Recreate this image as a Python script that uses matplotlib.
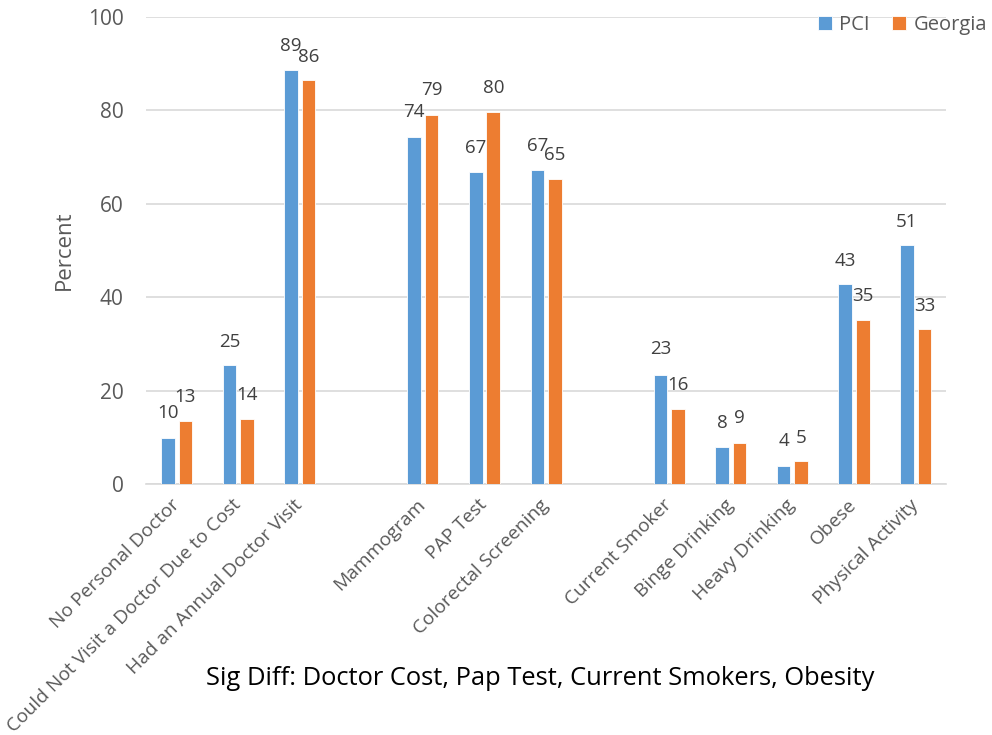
"""
PCI vs Georgia: access to care, screenings and risk behaviours.
Grouped bars with a blank slot between the three blocks, as in the source.
"""

import numpy as np
import matplotlib.pyplot as plt


# Категории (пустая строка = пустой слот между блоками)
CATEGORIES = [
    "No Personal Doctor",
    "Could Not Visit a Doctor Due to Cost",
    "Had an Annual Doctor Visit",
    "",
    "Mammogram",
    "PAP Test",
    "Colorectal Screening",
    "",
    "Current Smoker",
    "Binge Drinking",
    "Heavy Drinking",
    "Obese",
    "Physical Activity",
]
PCI = [9.8, 25.4, 88.6, None, 74.4, 66.9, 67.3, None, 23.4, 7.9, 3.9, 42.8, 51.1]
GEORGIA = [13.4, 13.9, 86.4, None, 79.1, 79.7, 65.4, None, 16.0, 8.8, 4.9, 35.1, 33.2]

# Подписи в исходнике сдвинуты вручную — держим их высоту отдельно
LABEL_Y_PCI = [15.2, 30.4, 93.7, None, 79.6, 72.0, 72.3, None, 28.9, 13.1, 9.1, 47.8, 56.2]
LABEL_Y_GEO = [18.6, 19.1, 91.5, None, 84.3, 84.8, 70.5, None, 21.2, 14.2, 9.8, 40.2, 38.2]

NOTE = "Sig Diff: Doctor Cost, Pap Test, Current Smokers, Obesity"

BLUE = "#5B9BD5"
ORANGE = "#ED7D31"
GRID = "#D9D9D9"
TEXT = "#595959"
FONT = ["Open Sans", "DejaVu Sans"]

BAR_W = 0.22
SHIFT = 0.142


def main():
    plt.rcParams["font.family"] = FONT

    fig = plt.figure(figsize=(9.92, 7.35), dpi=100)
    ax = fig.add_axes([0.147, 0.3415, 0.807, 0.6354])

    x = np.arange(len(CATEGORIES))
    idx = [i for i, v in enumerate(PCI) if v is not None]
    pci = np.array([PCI[i] for i in idx])
    geo = np.array([GEORGIA[i] for i in idx])
    xi = x[idx]

    ax.bar(xi - SHIFT, pci, BAR_W, color=BLUE, edgecolor="white",
           linewidth=0.6, label="PCI", zorder=3)
    ax.bar(xi + SHIFT, geo, BAR_W, color=ORANGE, edgecolor="white",
           linewidth=0.6, label="Georgia", zorder=3)

    for k, i in enumerate(idx):
        ax.text(x[i] - SHIFT, LABEL_Y_PCI[i], f"{pci[k]:.0f}", ha="center",
                va="center", fontsize=13.5, color="#404040", zorder=4)
        ax.text(x[i] + SHIFT, LABEL_Y_GEO[i], f"{geo[k]:.0f}", ha="center",
                va="center", fontsize=13.5, color="#404040", zorder=4)

    ax.set_xlim(-0.5, len(CATEGORIES) - 0.5)
    ax.set_ylim(0, 100)
    ax.set_yticks(range(0, 101, 20))
    ax.yaxis.grid(True, color=GRID, linewidth=1.2, zorder=0)
    ax.set_axisbelow(True)
    for s in ["top", "right", "left"]:
        ax.spines[s].set_visible(False)
    ax.spines["bottom"].set_color(GRID)
    ax.spines["bottom"].set_linewidth(1.2)
    ax.tick_params(axis="y", length=0, pad=16, labelsize=15, labelcolor=TEXT)
    ax.tick_params(axis="x", length=0, pad=13)

    ax.set_xticks(x)
    ax.set_xticklabels(CATEGORIES, rotation=45, ha="right", va="center",
                       rotation_mode="anchor", fontsize=13.8, color=TEXT)

    ax.set_ylabel("Percent", fontsize=16, color=TEXT, labelpad=9)

    fig.legend(loc="center right", bbox_to_anchor=(0.995, 0.966),
               bbox_transform=fig.transFigure, ncol=2, frameon=False,
               fontsize=14.5, labelcolor=TEXT, handlelength=0.7,
               handleheight=0.7, handletextpad=0.35, columnspacing=1.15,
               borderpad=0, borderaxespad=0)

    fig.text(0.545, 0.077, NOTE, ha="center", va="center", fontsize=18.4,
             color="black")

    fig.savefig("out.png", dpi=100)


if __name__ == "__main__":
    main()
